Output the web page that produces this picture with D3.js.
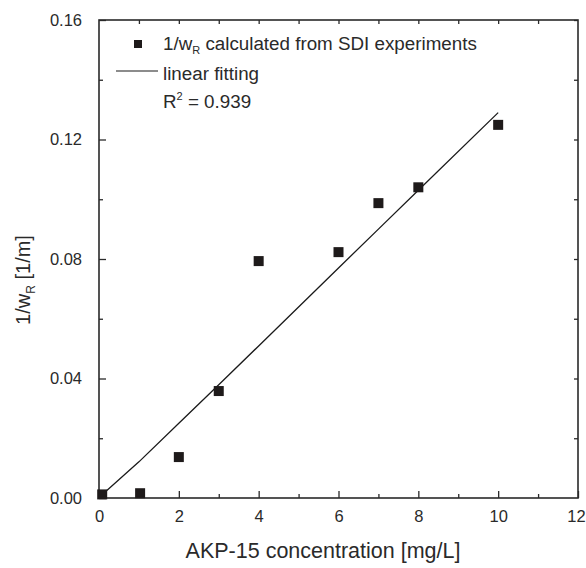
<!DOCTYPE html>
<html lang="en">
<head>
    <meta charset="UTF-8">
    <title>1/wR vs AKP-15</title>
    <script src="https://d3js.org/d3.v7.min.js"></script>
    <style>
        body { margin: 0; background: #fff; }
        text { font-family: "Liberation Sans", Arial, sans-serif; fill: #2a2a2a; }
    </style>
</head>
<body>
<script>
    // measured points
    var concX = [0.08, 1.03, 2, 3, 4, 6, 7, 8, 10];
    var invWR = [0.0012, 0.0016, 0.0137, 0.0358, 0.0793, 0.0823, 0.0987, 0.104, 0.1249];
    // linear fitting curve
    var fitX = [0, 1, 2, 3, 4, 6, 7, 8, 10];
    var fitY = [0.0002, 0.0121, 0.0250, 0.0379, 0.0509, 0.0770, 0.0900, 0.1030, 0.1290];
    var xTicks = [0, 2, 4, 6, 8, 10, 12];
    var yTicks = [0.00, 0.04, 0.08, 0.12, 0.16];

    (function () {
        var W = 586, H = 568;
        var mLeft = 99, mRight = 578, mTop = 20, mBottom = 498;

        var svg = d3.select("body").append("svg")
            .attr("width", W)
            .attr("height", H);

        var x = d3.scaleLinear().domain([0, 12]).range([mLeft, mRight]);
        var y = d3.scaleLinear().domain([0, 0.16]).range([mBottom, mTop]);

        var ink = "#2a2a2a";

        // minor ticks (no labels)
        var xMinor = d3.range(1, 12, 2);
        var yMinor = d3.range(0.02, 0.16, 0.04);

        function styleAxis(g) {
            g.select(".domain").remove();
            g.selectAll("line").attr("stroke", ink).attr("stroke-width", 1.3);
            g.selectAll("text").attr("font-size", 16.5).style("fill", ink)
                .attr("font-family", "Liberation Sans, Arial, sans-serif");
        }

        // bottom
        var xAx = svg.append("g").attr("transform", "translate(0," + mBottom + ")")
            .call(d3.axisBottom(x).tickValues(xTicks).tickSize(-7).tickPadding(12).tickFormat(d3.format("d")))
            .call(styleAxis);
        // last label sits on the page edge
        xAx.selectAll("text").filter(function (d) { return d === 12; }).attr("dx", -2);
        svg.append("g").attr("transform", "translate(0," + mBottom + ")")
            .call(d3.axisBottom(x).tickValues(xMinor).tickSize(-4).tickFormat(""))
            .call(styleAxis);
        // top
        svg.append("g").attr("transform", "translate(0," + mTop + ")")
            .call(d3.axisTop(x).tickValues(d3.range(1, 12)).tickSize(-4).tickFormat(""))
            .call(styleAxis);
        // left
        svg.append("g").attr("transform", "translate(" + mLeft + ",0)")
            .call(d3.axisLeft(y).tickValues(yTicks).tickSize(-7).tickPadding(17).tickFormat(d3.format(".2f")))
            .call(styleAxis);
        svg.append("g").attr("transform", "translate(" + mLeft + ",0)")
            .call(d3.axisLeft(y).tickValues(yMinor).tickSize(-4).tickFormat(""))
            .call(styleAxis);
        // right
        svg.append("g").attr("transform", "translate(" + mRight + ",0)")
            .call(d3.axisRight(y).tickValues(d3.range(0.02, 0.16, 0.02)).tickSize(-4).tickFormat(""))
            .call(styleAxis);

        // frame
        svg.append("rect")
            .attr("x", mLeft).attr("y", mTop)
            .attr("width", mRight - mLeft).attr("height", mBottom - mTop)
            .attr("fill", "none").attr("stroke", ink).attr("stroke-width", 1.6);

        // fit line
        var line = d3.line()
            .x(function (d, i) { return x(fitX[i]); })
            .y(function (d, i) { return y(fitY[i]); });
        svg.append("path")
            .datum(fitX)
            .attr("d", line)
            .attr("fill", "none")
            .attr("stroke", "#1a1a1a")
            .attr("stroke-width", 1.3);

        // squares
        var sq = 10;
        svg.selectAll("rect.pt")
            .data(concX)
            .enter()
            .append("rect")
            .attr("class", "pt")
            .attr("x", function (d) { return x(d) - sq / 2; })
            .attr("y", function (d, i) { return y(invWR[i]) - sq / 2; })
            .attr("width", sq).attr("height", sq)
            .attr("fill", "#1e1a1a");

        // legend
        svg.append("rect")
            .attr("x", 134).attr("y", 40).attr("width", 8).attr("height", 8)
            .attr("fill", "#1e1a1a");
        var t1 = svg.append("text").attr("x", 163).attr("y", 50).attr("font-size", 18.8);
        t1.append("tspan").text("1/w");
        t1.append("tspan").attr("font-size", 11).attr("dy", 4).text("R");
        t1.append("tspan").attr("dy", -4).text(" calculated from SDI experiments");

        svg.append("line")
            .attr("x1", 116).attr("x2", 158).attr("y1", 71).attr("y2", 71)
            .attr("stroke", "#1a1a1a").attr("stroke-width", 1.2);
        svg.append("text").attr("x", 163).attr("y", 80).attr("font-size", 18.8).text("linear fitting");

        var t3 = svg.append("text").attr("x", 163).attr("y", 108).attr("font-size", 18.8);
        t3.append("tspan").text("R");
        t3.append("tspan").attr("font-size", 11).attr("dy", -8).text("2");
        t3.append("tspan").attr("dy", 8).text(" = 0.939");

        // axis titles
        svg.append("text")
            .attr("x", 323).attr("y", 558)
            .attr("text-anchor", "middle").attr("font-size", 21.5)
            .text("AKP-15 concentration [mg/L]");

        var yt = svg.append("text")
            .attr("transform", "translate(30,280) rotate(-90)")
            .attr("text-anchor", "middle").attr("font-size", 20);
        yt.append("tspan").text("1/w");
        yt.append("tspan").attr("font-size", 12).attr("dy", 5).text("R");
        yt.append("tspan").attr("dy", -5).text(" [1/m]");
    })();
</script>
</body>
</html>
